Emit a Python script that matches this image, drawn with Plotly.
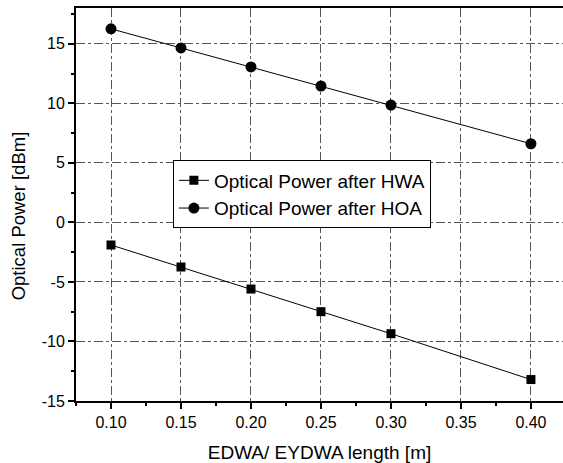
import plotly.graph_objects as go

x_len = [0.10, 0.15, 0.20, 0.25, 0.30, 0.40]
hwa = [-1.9, -3.75, -5.6, -7.5, -9.35, -13.2]
hoa = [16.25, 14.65, 13.05, 11.45, 9.85, 6.6]
x_ticks = [0.10, 0.15, 0.20, 0.25, 0.30, 0.35, 0.40]
y_ticks = [-15, -10, -5, 0, 5, 10, 15]

FONT = "Liberation Sans, Arial, sans-serif"

fig = go.Figure()
fig.add_trace(go.Scatter(x=x_len, y=hwa, mode="lines+markers", name="Optical Power after HWA",
                         line=dict(color="black", width=1),
                         marker=dict(symbol="square", size=9, color="black")))
fig.add_trace(go.Scatter(x=x_len, y=hoa, mode="lines+markers", name="Optical Power after HOA",
                         line=dict(color="black", width=1),
                         marker=dict(symbol="circle", size=11, color="black")))

fig.update_layout(
    width=563, height=463,
    margin=dict(l=76, r=0, t=8, b=62),
    paper_bgcolor="white", plot_bgcolor="white",
    font=dict(family=FONT, size=16, color="black"),
    showlegend=True,
    legend=dict(x=0.199, y=0.612, xanchor="left", yanchor="top",
                bgcolor="white", bordercolor="black", borderwidth=1,
                font=dict(size=19, family=FONT), tracegroupgap=0,
                itemwidth=30),
    xaxis=dict(range=[0.075, 0.4229], tickvals=x_ticks,
               ticktext=[f"{v:.2f}" for v in x_ticks],
               showline=True, linecolor="black", linewidth=2, mirror=True,
               ticks="outside", ticklen=6, tickcolor="black", tickwidth=1.5,
               tickfont=dict(size=16),
               minor=dict(dtick=0.025, tick0=0.075, ticks="outside", ticklen=3, tickcolor="black", showgrid=False),
               showgrid=True, gridcolor="#555", griddash="dashdot", gridwidth=1,
               zeroline=False,
               title=dict(text="EDWA/ EYDWA length [m]", font=dict(size=19), standoff=15)),
    yaxis=dict(range=[-15, 18], tickvals=y_ticks,
               ticktext=[str(v) for v in y_ticks],
               showline=True, linecolor="black", linewidth=2, mirror=False,
               ticks="outside", ticklen=6, tickcolor="black", tickwidth=1.5,
               tickfont=dict(size=16),
               minor=dict(dtick=2.5, tick0=0, ticks="outside", ticklen=3, tickcolor="black", showgrid=False),
               showgrid=True, gridcolor="#555", griddash="dashdot", gridwidth=1,
               zeroline=False),
    annotations=[dict(text="Optical Power [dBm]", textangle=-90, showarrow=False,
                      xref="paper", yref="paper", x=-0.119, y=0.47,
                      xanchor="center", yanchor="middle",
                      font=dict(size=18.5, family=FONT, color="black"))],
)

fig.write_html("out.html")
